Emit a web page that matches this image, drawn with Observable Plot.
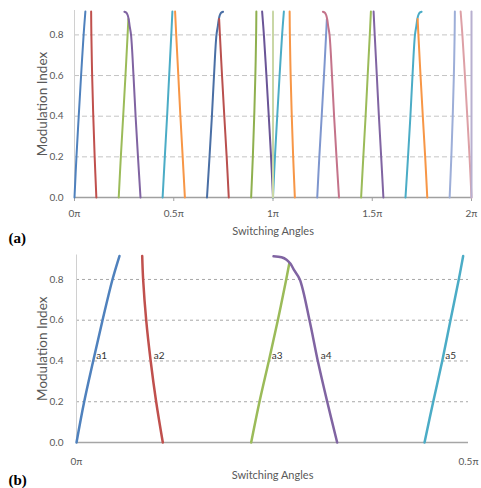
<!DOCTYPE html>
<html><head><meta charset="utf-8">
<script src="https://cdn.jsdelivr.net/npm/d3@7"></script>
<script src="https://cdn.jsdelivr.net/npm/@observablehq/plot@0.6"></script>
<style>
body{margin:0;background:#fff;width:481px;height:488px;overflow:hidden;font-family:Lato,sans-serif}
#root svg{display:block;overflow:visible}
</style></head><body><div id="root"></div>
<script>
// ---- data (angles in units of π, modulation index m) ----
const mStd = [0, 0.2, 0.4, 0.6, 0.8, 0.915];
const a1 = [0, 0.0098, 0.0213, 0.0332, 0.0459, 0.0548];
const a2 = [0.1101, 0.1016, 0.0946, 0.0889, 0.0850, 0.0838];
const a3M = [0, 0.2, 0.4, 0.6, 0.8, 0.878];
const a3 = [0.2228, 0.2334, 0.2453, 0.2568, 0.2675, 0.2714];
const a4M = [0, 0.2, 0.4, 0.6, 0.8, 0.844, 0.877, 0.897, 0.909, 0.914];
const a4 = [0.3325, 0.3198, 0.3078, 0.2972, 0.2848, 0.2778, 0.2730, 0.2679, 0.2615, 0.2513];
const a5 = [0.4439, 0.4550, 0.4665, 0.4770, 0.4876, 0.4932];
const vertM = [0, 0.915];
const vertPi = [1, 1];
const vert2Pi = [2, 2];

const angleNames = ["a1", "a2", "a3", "a4", "a5"];
const gridTicks = [0.2, 0.4, 0.6, 0.8];
const yTicks = [0, 0.2, 0.4, 0.6, 0.8];
const xTicksA = [0, 0.5, 1, 1.5, 2];
const xTicksB = [0, 0.5];

const seriesNamesA = ["a1","a2","a3","a4","a5",
  "π-a5","π-a4","π-a3","π-a2","π-a1",
  "π+a1","π+a2","π+a3","π+a4","π+a5",
  "2π-a5","2π-a4","2π-a3","2π-a2","2π-a1","π","2π"];
const seriesColorsA = ["#4F81BD","#C0504D","#9BBB59","#8064A2","#4BACC6",
  "#F79646","#4A6FA5","#B9504E","#8FB04F","#6A5596",
  "#4BACC6","#F79646","#7E96CE","#C4738A","#9BBB59",
  "#8064A2","#4BACC6","#F79646","#9DAED8","#DDA0A6","#C9D7A6","#B8B0D0"];

// ---- build tables ----
const angles = [a1, a2, a3, a4, a5];
const angleM = [mStd, mStd, a3M, a4M, mStd];
function add(rows, name, xs, ms) { xs.forEach((x, i) => rows.push({series: name, x, m: ms[i]})); }

const rowsB = [];
angles.forEach((a, k) => add(rowsB, angleNames[k], a, angleM[k]));

const rowsA = [];
angles.forEach((a, k) => add(rowsA, angleNames[k], a, angleM[k]));
[4,3,2,1,0].forEach(k => add(rowsA, "π-" + angleNames[k], angles[k].map(v => 1 - v), angleM[k]));
[0,1,2,3,4].forEach(k => add(rowsA, "π+" + angleNames[k], angles[k].map(v => 1 + v), angleM[k]));
[4,3,2,1,0].forEach(k => add(rowsA, "2π-" + angleNames[k], angles[k].map(v => 2 - v), angleM[k]));
add(rowsA, "π", vertPi, vertM);
add(rowsA, "2π", vert2Pi, vertM);

const labelRows = angleNames.map((n, k) => ({name: n, x: angles[k][2], m: angleM[k][2]}));

const piFmt = d => d + "π";

const plotA = Plot.plot({
  width: 481, height: 246,
  marginLeft: 74, marginRight: 10, marginTop: 10, marginBottom: 49,
  x: {domain: [0, 2]}, y: {domain: [0, 0.92]},
  color: {domain: seriesNamesA, range: seriesColorsA},
  style: {fontFamily: "Lato, sans-serif", fontSize: "10px", color: "#595959", background: "#fff", overflow: "visible"},
  marks: [
    Plot.ruleY(gridTicks, {stroke: "#c4c4c4", strokeDasharray: "5,3"}),
    Plot.ruleX([0], {y1: 0, y2: 0.92, stroke: "#d0d0d0"}),
    Plot.axisY(yTicks, {tickSize: 0, tickPadding: 11, tickFormat: d3.format(".1f"), label: null}),
    Plot.axisX(xTicksA, {tickSize: 4, tickPadding: 8, tickFormat: piFmt, label: null, stroke: "#a0a0a0"}),
    Plot.ruleY([0], {stroke: "#a0a0a0", strokeWidth: 1.5}),
    Plot.line(rowsA, {x: "x", y: "m", z: "series", stroke: "series", strokeWidth: 2, curve: "catmull-rom"}),
    Plot.text(["Switching Angles"], {text: d => d, frameAnchor: "bottom", lineAnchor: "middle", dy: 34, fontSize: 11}),
    Plot.text(["Modulation Index"], {text: d => d, frameAnchor: "left", textAnchor: "middle", lineAnchor: "middle",
      rotate: -90, dx: -32, fontSize: 13.5}),
    Plot.text(["(a)"], {text: d => d, frameAnchor: "bottom-left", dx: -66, dy: 41, textAnchor: "start", lineAnchor: "middle",
      fontFamily: "Liberation Serif, serif", fontWeight: "bold", fontSize: 15, fill: "#000"})
  ]
});

const plotB = Plot.plot({
  width: 481, height: 242,
  marginLeft: 76, marginRight: 13, marginTop: 8.5, marginBottom: 46,
  x: {domain: [0, 0.5]}, y: {domain: [0, 0.92]},
  color: {domain: angleNames, range: seriesColorsA.slice(0, 5)},
  style: {fontFamily: "Lato, sans-serif", fontSize: "10px", color: "#595959", background: "#fff", overflow: "visible"},
  marks: [
    Plot.ruleY(gridTicks, {stroke: "#a8a8a8", strokeDasharray: "3,3"}),
    Plot.ruleX([0], {y1: 0, y2: 0.92, stroke: "#d0d0d0"}),
    Plot.axisY(yTicks, {tickSize: 0, tickPadding: 13, tickFormat: d3.format(".1f"), label: null}),
    Plot.axisX(xTicksB, {tickSize: 0, tickPadding: 15, tickFormat: piFmt, label: null}),
    Plot.ruleY([0], {stroke: "#a6a6a6", strokeWidth: 1.5}),
    Plot.line(rowsB, {x: "x", y: "m", z: "series", stroke: "series", strokeWidth: 2.5, curve: "catmull-rom"}),
    Plot.text(labelRows, {x: "x", y: "m", text: "name", textAnchor: "start", dx: 3, dy: -5, fill: "#333", fontSize: 10}),
    Plot.text(["Switching Angles"], {text: d => d, frameAnchor: "bottom", lineAnchor: "middle", dy: 33, fontSize: 11}),
    Plot.text(["Modulation Index"], {text: d => d, frameAnchor: "left", textAnchor: "middle", lineAnchor: "middle",
      rotate: -90, dx: -34, fontSize: 13.5}),
    Plot.text(["(b)"], {text: d => d, frameAnchor: "bottom-left", dx: -68, dy: 38, textAnchor: "start", lineAnchor: "middle",
      fontFamily: "Liberation Serif, serif", fontWeight: "bold", fontSize: 15, fill: "#000"})
  ]
});

const root = document.getElementById("root");
root.appendChild(plotA);
root.appendChild(plotB);
</script>
</body></html>
